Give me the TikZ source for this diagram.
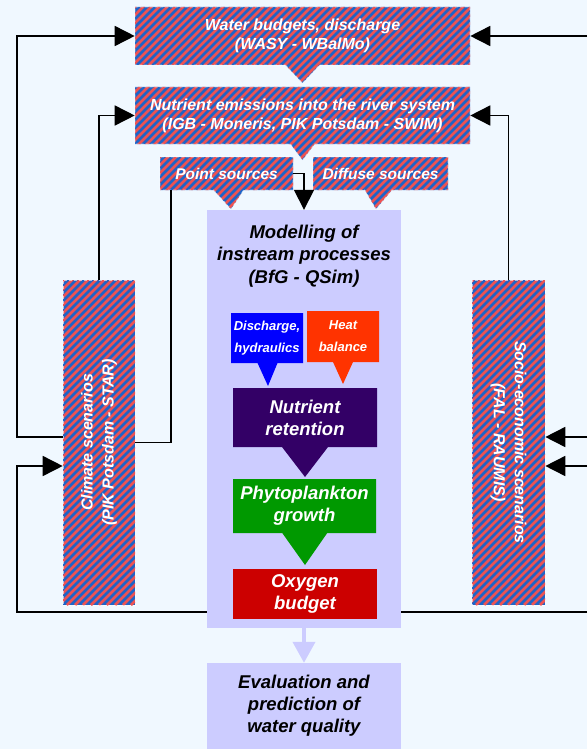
\documentclass[tikz,border=0pt]{standalone}
\usepackage{graphicx}
\usepackage{fontspec}
\setmainfont{Liberation Sans}
\usetikzlibrary{shapes.callouts,arrows.meta}
\definecolor{bgblue}{RGB}{240,248,255}
\definecolor{stripered}{RGB}{238,82,82}
\definecolor{stripeblue}{RGB}{30,100,200}
\definecolor{lavender}{RGB}{204,204,255}
\definecolor{hydroblue}{RGB}{0,0,255}
\definecolor{heatred}{RGB}{255,51,0}
\definecolor{retpurple}{RGB}{51,0,102}
\definecolor{phygreen}{RGB}{0,153,0}
\definecolor{oxyred}{RGB}{204,0,0}

\begin{document}
\begin{tikzpicture}[x=1pt, y=-1pt,
  striped/.style={fill=stripeblue, path picture={\foreach \k in {0,8,...,720} \draw[stripered, solid, draw opacity=1, line width=2.8pt] ([xshift=\k pt-340pt]path picture bounding box.south west) -- ++(400pt,400pt);}, draw=white, draw opacity=.6, line width=.6pt, dash pattern=on 3pt off 2pt, text=white, inner sep=0pt, align=center, font=\bfseries\itshape\fontsize{16}{19}\selectfont},
  inbox/.style={text=white, inner sep=0pt, align=center, font=\bfseries\itshape\fontsize{18.5}{22}\selectfont},
  smallbox/.style={inbox, minimum width=72pt, callout pointer width=20pt, font=\bfseries\itshape\fontsize{13}{22}\selectfont},
  pointto/.style={rectangle callout, callout absolute pointer={#1}},
  link/.style={line width=1.6pt},
  flow/.style={link, -{Triangle[length=20pt,width=20pt]}}]

\fill[bgblue] (0,0) rectangle (587,749);
\useasboundingbox (0,0) rectangle (587,749);

\node[striped, minimum width=72pt, minimum height=325pt, font=\bfseries\itshape\fontsize{16}{21}\selectfont] (climate) at (99,442.5) {\rotatebox{90}{\begin{tabular}{@{}c@{}}Climate scenarios\\(PIK Potsdam - STAR)\end{tabular}}};
\node[striped, minimum width=73pt, minimum height=325pt, font=\bfseries\itshape\fontsize{16}{21}\selectfont] (socio) at (508.5,442.5) {\rotatebox{-90}{\begin{tabular}{@{}c@{}}Socio-economic scenarios\\(FAL - RAUMIS)\end{tabular}}};

\coordinate (edgeBR) at (587,612);
\draw[flow] (edgeBR) -- (17,612) |- (climate.west |- 0,466);

\node[fill=lavender, minimum width=194pt, minimum height=418pt, inner sep=0pt] (model) at (304,419) {};
\node[font=\bfseries\itshape\fontsize{18.5}{22.5}\selectfont, align=center] (modtitle) at (304,256) {Modelling of\\instream processes\\(BfG - QSim)};

\node[smallbox, fill=hydroblue, pointto={(268,386)}, minimum height=50pt] (hydro) at (267,338) {Discharge,\\hydraulics};
\node[smallbox, fill=heatred, pointto={(343,384)}, minimum height=51pt] (heat) at (343,336.5) {Heat\\balance};
\node[inbox, fill=retpurple, pointto={(305,477)}, callout pointer width=46pt, minimum width=144pt, minimum height=59pt] (retention) at (305,417.5) {Nutrient\\retention};
\node[inbox, fill=phygreen, pointto={(305,565)}, callout pointer width=45pt, minimum width=143pt, minimum height=54pt] (phyto) at (304.5,506) {Phytoplankton\\growth};
\node[inbox, fill=oxyred, minimum width=144pt, minimum height=50pt] (oxygen) at (305,594) {Oxygen\\budget};

\node[fill=lavender, minimum width=194pt, minimum height=86pt, inner sep=0pt, align=center, font=\bfseries\itshape\fontsize{18.5}{22}\selectfont] (quality) at (304,706) {Evaluation and\\prediction of\\water quality};
\draw[line width=4pt, lavender, -{Triangle[length=21pt,width=22pt]}] (model.south) -- (quality.north);

\node[striped, pointto={(302.5,83)}, callout pointer width=34pt, minimum width=335pt, minimum height=58pt] (wasy) at (302.5,36) {Water budgets, discharge\\(WASY - WBalMo)};
\node[striped, pointto={(302.5,160)}, callout pointer width=24pt, minimum width=335pt, minimum height=57pt] (emission) at (302.5,115.5) {Nutrient emissions into the river system\\(IGB - Moneris, PIK Potsdam - SWIM)};
\node[striped, pointto={(231,209)}, callout pointer width=30pt, minimum width=133pt, minimum height=33pt, font=\bfseries\itshape\fontsize{15.5}{18}\selectfont] (point) at (226.5,173.5) {Point sources};
\node[striped, pointto={(376,209)}, callout pointer width=27pt, minimum width=135pt, minimum height=33pt, font=\bfseries\itshape\fontsize{15.5}{18}\selectfont] (diffuse) at (380.5,173.5) {Diffuse sources};

\coordinate (edgeTR) at (587,36);
\coordinate (edgeR1) at (587,437);
\coordinate (edgeR2) at (587,466);
\draw[flow] (climate.west |- 0,437) -| (17,36) -- (wasy.west);
\draw[flow] (edgeTR) -- (wasy.east);
\draw[flow] (climate.north) |- (emission.west);
\draw[flow] (socio.north) |- (emission.east);
\draw[flow] (point.east) -| (model.north);
\draw[link] ([xshift=11pt]point.south west) |- (climate.east);
\draw[flow] (edgeR1) -- (socio.east |- edgeR1);
\draw[flow] (edgeR2) -- (socio.east |- edgeR2);
\end{tikzpicture}
\end{document}
